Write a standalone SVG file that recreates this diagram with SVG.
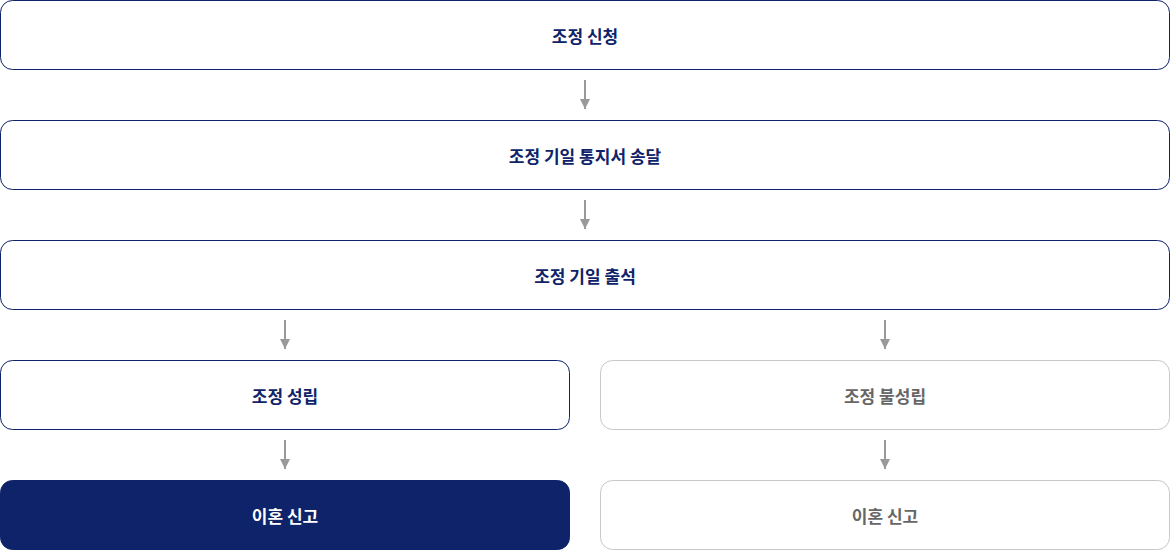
<svg xmlns="http://www.w3.org/2000/svg" width="1170" height="550" viewBox="0 0 1170 550">
<defs>
<marker id="ah" viewBox="0 0 10 10" refX="10" refY="5" markerWidth="10" markerHeight="10" markerUnits="userSpaceOnUse" orient="auto">
<path d="M0,0 L10,5 L0,10 Z" fill="#999"/>
</marker>
<style>
.box{fill:#fff;stroke:#0e2369;stroke-width:1}
.gbox{fill:#fff;stroke:#c8c8c8;stroke-width:1}
.dbox{fill:#0e2369;stroke:#0e2369;stroke-width:1}
.t{font-family:"Noto Sans CJK KR","Noto Sans",sans-serif;font-size:17px;font-weight:700;text-anchor:middle;dominant-baseline:central;fill:#0e2369}
.gt{fill:#666}
.wt{fill:#fff}
.c{stroke:#999;stroke-width:2;fill:none;marker-end:url(#ah)}
</style>
</defs>
<g id="n1"><rect class="box" x="0.5" y="0.5" width="1169" height="69" rx="12"/><text class="t" x="585" y="35">조정 신청</text></g>
<g id="n2"><rect class="box" x="0.5" y="120.5" width="1169" height="69" rx="12"/><text class="t" x="585" y="155">조정 기일 통지서 송달</text></g>
<g id="n3"><rect class="box" x="0.5" y="240.5" width="1169" height="69" rx="12"/><text class="t" x="585" y="275">조정 기일 출석</text></g>
<g id="n4"><rect class="box" x="0.5" y="360.5" width="569" height="69" rx="12"/><text class="t" x="285" y="395">조정 성립</text></g>
<g id="n5"><rect class="gbox" x="600.5" y="360.5" width="569" height="69" rx="12"/><text class="t gt" x="885" y="395">조정 불성립</text></g>
<g id="n6"><rect class="dbox" x="0.5" y="480.5" width="569" height="69" rx="12"/><text class="t wt" x="285" y="515">이혼 신고</text></g>
<g id="n7"><rect class="gbox" x="600.5" y="480.5" width="569" height="69" rx="12"/><text class="t gt" x="885" y="515">이혼 신고</text></g>
<g id="connectors">
<line class="c" x1="585" y1="80" x2="585" y2="109"/>
<line class="c" x1="585" y1="200" x2="585" y2="229"/>
<line class="c" x1="285" y1="320" x2="285" y2="349"/>
<line class="c" x1="885" y1="320" x2="885" y2="349"/>
<line class="c" x1="285" y1="440" x2="285" y2="469"/>
<line class="c" x1="885" y1="440" x2="885" y2="469"/>
</g>
</svg>
